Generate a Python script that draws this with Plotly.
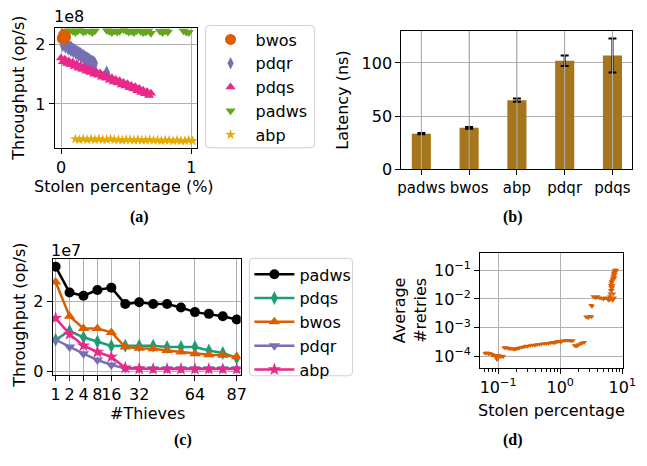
import plotly.graph_objects as go

W, H = 647, 466

# ---------------- Panel (a): throughput vs stolen percentage ----------------
bwos_a_x = [0.010, 0.020, 0.030, 0.015, 0.025, 0.035, 0.020]
bwos_a_y = [2.10e8, 2.13e8, 2.15e8, 2.12e8, 2.09e8, 2.12e8, 2.16e8]

pdqr_a_x = [0.01, 0.02, 0.03, 0.04, 0.05, 0.06, 0.07, 0.08, 0.09, 0.10, 0.11, 0.12, 0.13,
            0.14, 0.15, 0.16, 0.17, 0.18, 0.19, 0.20, 0.21, 0.22, 0.23, 0.24, 0.25, 0.26,
            0.015, 0.035, 0.055, 0.075, 0.095, 0.115, 0.135, 0.155, 0.175, 0.195, 0.215,
            0.235, 0.255, 0.350, 0.353]
pdqr_a_y = [2.05, 2.03, 2.02, 2.00, 1.99, 1.97, 1.96, 1.95, 1.93, 1.92, 1.90, 1.89, 1.88,
            1.86, 1.85, 1.83, 1.82, 1.80, 1.79, 1.78, 1.76, 1.75, 1.73, 1.72, 1.71, 1.69,
            1.98, 1.95, 1.92, 1.89, 1.87, 1.84, 1.81, 1.78, 1.75, 1.72, 1.69,
            1.67, 1.64, 1.54, 1.51]

pdqs_a_x = [0.00, 0.03, 0.06, 0.09, 0.12, 0.15, 0.18, 0.21, 0.24, 0.27, 0.30, 0.33,
            0.36, 0.39, 0.42, 0.45, 0.48, 0.51, 0.54, 0.57, 0.60, 0.63, 0.66, 0.69,
            0.015, 0.045, 0.075, 0.105, 0.135, 0.165, 0.195, 0.225, 0.255, 0.285, 0.315,
            0.345, 0.375, 0.405, 0.435, 0.465, 0.495, 0.525, 0.555, 0.585, 0.615, 0.645, 0.675]
pdqs_a_y = [1.77, 1.75, 1.72, 1.70, 1.67, 1.64, 1.62, 1.59, 1.57, 1.54, 1.52, 1.49,
            1.46, 1.44, 1.41, 1.39, 1.36, 1.34, 1.31, 1.29, 1.26, 1.23, 1.21, 1.18,
            1.71, 1.68, 1.66, 1.63, 1.60, 1.58, 1.55, 1.53, 1.50, 1.48, 1.45,
            1.43, 1.40, 1.37, 1.35, 1.32, 1.30, 1.27, 1.25, 1.22, 1.19, 1.17, 1.14]

padws_a_x = [0.03, 0.05, 0.07, 0.09, 0.11, 0.13, 0.15, 0.17, 0.19, 0.22, 0.24, 0.26,
             0.35, 0.37, 0.39, 0.41, 0.43, 0.45, 0.48, 0.50, 0.52, 0.54, 0.56, 0.58,
             0.61, 0.63, 0.65, 0.67, 0.69, 0.76, 0.78, 0.80, 0.82, 0.94, 0.96, 0.98]
padws_a_y = [2.23, 2.21, 2.24, 2.22, 2.20, 2.23, 2.25, 2.21, 2.22, 2.22, 2.20, 2.23,
             2.24, 2.22, 2.20, 2.23, 2.21, 2.22, 2.25, 2.23, 2.21, 2.22, 2.20, 2.23,
             2.22, 2.20, 2.21, 2.23, 2.19, 2.22, 2.20, 2.23, 2.21, 2.23, 2.21, 2.20]

abp_a_x = [0.11, 0.14, 0.17, 0.20, 0.23, 0.26, 0.29, 0.32, 0.35, 0.38, 0.41, 0.44, 0.47,
           0.50, 0.53, 0.56, 0.59, 0.62, 0.65, 0.68, 0.71, 0.74, 0.77, 0.80, 0.83, 0.86,
           0.89, 0.92, 0.95, 0.98, 1.01]
abp_a_y = [0.41, 0.40, 0.41, 0.40, 0.41, 0.40, 0.41, 0.40, 0.40, 0.41, 0.40, 0.40, 0.39,
           0.40, 0.40, 0.39, 0.40, 0.39, 0.39, 0.40, 0.39, 0.39, 0.38, 0.39, 0.39, 0.38,
           0.39, 0.38, 0.38, 0.39, 0.38]

# ---------------- Panel (b): latency ----------------
lat_cats = ["padws", "bwos", "abp", "pdqr", "pdqs"]
lat_vals = [33.5, 39.0, 65.0, 102.0, 107.0]
lat_errs = [0.5, 0.8, 1.5, 5.0, 16.0]

# ---------------- Panel (c): throughput vs #thieves ----------------
thieves = [1, 2, 4, 8, 16, 24, 32, 40, 48, 56, 64, 72, 80, 87]
thieves_ticks = [1, 2, 4, 8, 16, 32, 64, 87]
padws_c = [3.00, 2.26, 2.17, 2.33, 2.40, 1.93, 1.98, 1.93, 1.93, 1.83, 1.70, 1.65, 1.58, 1.49]
pdqs_c = [0.91, 1.16, 0.98, 0.86, 0.73, 0.74, 0.74, 0.74, 0.70, 0.70, 0.70, 0.60, 0.53, 0.39]
bwos_c = [2.56, 1.58, 1.23, 1.23, 1.12, 0.70, 0.67, 0.65, 0.60, 0.56, 0.51, 0.48, 0.47, 0.42]
pdqr_c = [0.91, 0.70, 0.51, 0.33, 0.19, 0.09, 0.08, 0.08, 0.08, 0.08, 0.08, 0.08, 0.08, 0.08]
abp_c = [1.53, 1.07, 0.74, 0.56, 0.42, 0.11, 0.08, 0.07, 0.07, 0.07, 0.07, 0.07, 0.07, 0.07]

# ---------------- Panel (d): retries vs stolen percentage ----------------
ret_x = [0.062, 0.066, 0.070, 0.074, 0.078, 0.082, 0.086, 0.090, 0.094, 0.096, 0.100, 0.105,
         0.110, 0.116, 0.121,
         0.125, 0.130, 0.140, 0.150, 0.160, 0.170, 0.180, 0.190, 0.200, 0.210, 0.220,
         0.240, 0.260, 0.280, 0.300, 0.330, 0.360, 0.390, 0.420, 0.460, 0.500, 0.550,
         0.600, 0.650, 0.700, 0.750, 0.800, 0.850, 0.900, 0.950,
         1.02, 1.10, 1.20, 1.30, 1.40, 1.50, 1.60,
         1.70, 1.80, 1.90, 2.00, 2.15, 2.30, 2.45,
         2.60, 2.80, 3.00, 3.20, 3.15, 3.25,
         3.40, 3.60, 3.80, 4.00, 4.30, 4.60, 5.00, 5.40, 5.80, 6.10, 6.40,
         6.30, 6.40, 6.50, 6.60, 6.50, 6.70, 6.80, 6.90, 7.00, 7.10, 7.20, 7.30, 7.40, 7.60,
         7.80, 8.00, 7.50, 7.00, 6.80, 7.20, 6.60, 7.00, 7.40, 6.90, 7.60, 6.70, 7.30, 7.70]
ret_y = [1.30e-4, 1.35e-4, 1.25e-4, 1.30e-4, 1.20e-4, 1.15e-4, 1.10e-4, 1.05e-4, 0.95e-4,
         0.78e-4, 1.10e-4, 1.05e-4, 1.00e-4, 1.05e-4, 1.00e-4,
         2.05e-4, 2.00e-4, 2.00e-4, 1.90e-4, 1.85e-4, 1.90e-4, 1.80e-4, 1.85e-4, 1.90e-4,
         1.95e-4, 2.00e-4,
         2.10e-4, 2.20e-4, 2.30e-4, 2.25e-4, 2.40e-4, 2.50e-4, 2.45e-4, 2.60e-4, 2.65e-4,
         2.70e-4, 2.80e-4, 2.85e-4, 2.90e-4, 3.00e-4, 3.10e-4, 3.00e-4, 3.20e-4, 3.30e-4,
         3.40e-4,
         3.20e-4, 3.50e-4, 3.60e-4, 3.70e-4, 3.60e-4, 3.50e-4, 3.60e-4,
         2.40e-4, 2.30e-4, 2.40e-4, 2.60e-4, 2.80e-4, 3.00e-4, 3.10e-4,
         2.40e-3, 2.20e-3, 2.50e-3, 2.40e-3, 6.00e-3, 5.50e-3,
         1.20e-2, 1.15e-2, 1.10e-2, 1.20e-2, 1.10e-2, 1.05e-2, 1.00e-2, 1.10e-2, 1.00e-2,
         0.90e-2, 1.05e-2,
         0.012, 0.015, 0.020, 0.025, 0.030, 0.035, 0.040, 0.050, 0.045, 0.060, 0.070, 0.080,
         0.090, 0.100, 0.095, 0.100, 0.055, 0.030, 0.020, 0.015, 0.010, 0.009, 0.011, 0.025,
         0.070, 0.040, 0.050, 0.085]
ret_xticks = [0.1, 1, 10]
ret_xticktext = ["10<sup>\u22121</sup>", "10<sup>0</sup>", "10<sup>1</sup>"]
ret_xminor = [0.06, 0.07, 0.08, 0.09, 0.2, 0.3, 0.4, 0.5, 0.6, 0.7, 0.8, 0.9,
              2, 3, 4, 5, 6, 7, 8, 9]
ret_yticks = [1e-4, 1e-3, 1e-2, 1e-1]
ret_yticktext = ["10<sup>\u22124</sup>", "10<sup>\u22123</sup>", "10<sup>\u22122</sup>",
                 "10<sup>\u22121</sup>"]

# ---------------- styling ----------------
C_GREEN, C_ORANGE, C_PURPLE, C_PINK = "#1b9e77", "#d95f02", "#7570b3", "#e7298a"
C_LIME, C_YELLOW, C_BROWN = "#66a61e", "#e6ab02", "#a6761d"
FONT = "DejaVu Sans"
FS = 16
GRID = "#b0b0b0"


def px(x, y):
    return x / W, 1 - y / H


def dom(x0, x1, y0, y1):
    return [x0 / W, x1 / W], [1 - y1 / H, 1 - y0 / H]


def axis_style(**kw):
    d = dict(showline=True, linecolor="black", linewidth=1, mirror=True,
             ticks="outside", ticklen=5, tickwidth=1, tickcolor="black",
             showgrid=True, gridcolor=GRID, gridwidth=1, zeroline=False, tickangle=0,
             tickfont=dict(family=FONT, size=FS, color="black"))
    d.update(kw)
    return d


fig = go.Figure()

# panel (a)
def sc_a(name, xs, ys, color, symbol, size, rank, scale=1.0):
    fig.add_trace(go.Scatter(
        x=xs, y=[v * scale for v in ys], mode="markers", name=name,
        marker=dict(color=color, symbol=symbol, size=size, line=dict(width=0)),
        xaxis="x", yaxis="y", legend="legend", legendrank=rank, legendgroup=name))

sc_a("pdqr", pdqr_a_x, pdqr_a_y, C_PURPLE, "diamond-tall", 9, 2, 1e8)
sc_a("pdqs", pdqs_a_x, pdqs_a_y, C_PINK, "triangle-up", 9, 3, 1e8)
sc_a("padws", padws_a_x, padws_a_y, C_LIME, "triangle-down", 9, 4, 1e8)
sc_a("abp", abp_a_x, abp_a_y, C_YELLOW, "star", 8, 5, 1e8)
sc_a("bwos", bwos_a_x, bwos_a_y, C_ORANGE, "circle", 11, 1)

# panel (b)
fig.add_trace(go.Bar(
    x=lat_cats, y=lat_vals, width=0.4, marker=dict(color=C_BROWN, line=dict(width=0)),
    error_y=dict(type="data", array=lat_errs, color="black", thickness=2, width=4),
    xaxis="x2", yaxis="y2", showlegend=False))

# panel (c)
idx = list(range(len(thieves)))
for name, vals, color, sym, size in [
        ("padws", padws_c, "black", "circle", 10),
        ("pdqs", pdqs_c, C_GREEN, "diamond-tall", 10),
        ("bwos", bwos_c, C_ORANGE, "triangle-up", 10),
        ("pdqr", pdqr_c, C_PURPLE, "triangle-down", 10),
        ("abp", abp_c, C_PINK, "star", 10)]:
    fig.add_trace(go.Scatter(
        x=idx, y=[v * 1e7 for v in vals], mode="lines+markers", name=name,
        line=dict(color=color, width=2.5),
        marker=dict(color=color, symbol=sym, size=size, line=dict(width=0)),
        xaxis="x3", yaxis="y3", legend="legend2", legendgroup="c_" + name))

# panel (d)
fig.add_trace(go.Scatter(
    x=ret_x, y=ret_y, mode="markers", showlegend=False,
    marker=dict(color=C_ORANGE, symbol="triangle-down", size=5, line=dict(width=0)),
    xaxis="x4", yaxis="y4"))

ax_a, ay_a = dom(52, 198, 29, 151)
ax_b, ay_b = dom(408, 645, 32, 173)
ax_c, ay_c = dom(50, 243, 265, 383)
ax_d, ay_d = dom(489, 636, 259, 376)

thieves_tickvals = [thieves.index(t) for t in thieves_ticks]

fig.update_layout(
    width=W, height=H, autosize=False,
    margin=dict(l=0, r=0, t=0, b=0),
    paper_bgcolor="white", plot_bgcolor="white",
    font=dict(family=FONT, size=FS, color="black"),
    xaxis=axis_style(domain=ax_a, anchor="y", range=[-0.049, 1.042],
                     tickvals=[0, 1], ticktext=["0", "1"]),
    yaxis=axis_style(domain=ay_a, anchor="x", range=[0.263e8, 2.27e8],
                     tickvals=[1e8, 2e8], ticktext=["1", "2"]),
    xaxis2=axis_style(domain=ax_b, anchor="y2", range=[-0.42, 4.41], type="category",
                      tickfont=dict(family=FONT, size=15, color="black")),
    yaxis2=axis_style(domain=ay_b, anchor="x2", range=[0, 129.7],
                      tickvals=[0, 50, 100]),
    xaxis3=axis_style(domain=ax_c, anchor="y3", range=[-0.21, 13.28],
                      tickvals=thieves_tickvals, ticktext=[str(t) for t in thieves_ticks]),
    yaxis3=axis_style(domain=ay_c, anchor="x3", range=[-0.092e7, 3.21e7],
                      tickvals=[0, 2e7], ticktext=["0", "2"]),
    xaxis4=axis_style(domain=ax_d, anchor="y4", type="log", range=[-1.289, 1.016],
                      tickvals=ret_xticks, ticktext=ret_xticktext,
                      minor=dict(ticks="outside", ticklen=3, tickcolor="black",
                                 tickvals=ret_xminor, showgrid=False)),
    yaxis4=axis_style(domain=ay_d, anchor="x4", type="log", range=[-4.397, -0.422],
                      tickvals=ret_yticks, ticktext=ret_yticktext),
    legend=dict(x=207 / W, y=1 - 23 / H, xanchor="left", yanchor="top",
                bgcolor="rgba(0,0,0,0)", borderwidth=0,
                font=dict(family=FONT, size=FS, color="black"),
                traceorder="grouped", tracegroupgap=0, itemwidth=40, itemsizing="trace"),
    legend2=dict(x=252 / W, y=1 - 263 / H, xanchor="left", yanchor="top",
                 bgcolor="rgba(0,0,0,0)", borderwidth=0,
                 font=dict(family=FONT, size=FS, color="black"),
                 traceorder="grouped", tracegroupgap=0, itemwidth=40),
)

# grid lines drawn over the bars in panel (b)
for cat in lat_cats:
    fig.add_shape(type="line", xref="x2", yref="y2 domain", x0=cat, x1=cat, y0=0, y1=1,
                  line=dict(color=GRID, width=1), layer="above")


def rrect(x0, y0, x1, y1, r=4):
    def p(x, y):
        return "%.5f,%.5f" % (x / W, 1 - y / H)
    return ("M" + p(x0 + r, y0) + " L" + p(x1 - r, y0) + " Q" + p(x1, y0) + " " + p(x1, y0 + r)
            + " L" + p(x1, y1 - r) + " Q" + p(x1, y1) + " " + p(x1 - r, y1)
            + " L" + p(x0 + r, y1) + " Q" + p(x0, y1) + " " + p(x0, y1 - r)
            + " L" + p(x0, y0 + r) + " Q" + p(x0, y0) + " " + p(x0 + r, y0) + " Z")


# legend frames (matplotlib-style rounded boxes)
for box in [(207, 26, 319, 151), (252, 264, 358, 384)]:
    fig.add_shape(type="path", xref="paper", yref="paper", path=rrect(*box),
                  line=dict(color="#d0d0d0", width=1), fillcolor="white", layer="below")


def ann(x, y, text, size=FS, angle=0, family=FONT, bold=False):
    ax_, ay_ = px(x, y)
    if bold:
        text = "<b>" + text + "</b>"
    fig.add_annotation(x=ax_, y=ay_, xref="paper", yref="paper", text=text,
                       showarrow=False, textangle=angle, xanchor="center", yanchor="middle",
                       font=dict(family=family, size=size, color="black"))


# axis titles
ann(14, 90, "Throughput (op/s)", angle=-90)
ann(123, 191, "Stolen percentage (%)")
ann(67, 17, "1e8")
ann(348, 102, "Latency (ns)", angle=-90)
ann(15, 322, "Throughput (op/s)", angle=-90)
ann(147, 423, "#Thieves")
ann(64, 256, "1e7")
ann(417, 317, "Average<br>#retries", angle=-90)
ann(562, 419, "Stolen percentage")

# panel labels
SERIF = "Liberation Serif"
ann(139, 222, "(a)", size=16, family=SERIF, bold=True)
ann(523, 222, "(b)", size=16, family=SERIF, bold=True)
ann(184, 450, "(c)", size=16, family=SERIF, bold=True)
ann(523, 450, "(d)", size=16, family=SERIF, bold=True)

fig.write_html("out.html", post_script="document.body.style.margin='0';",
               config={"displayModeBar": False})
